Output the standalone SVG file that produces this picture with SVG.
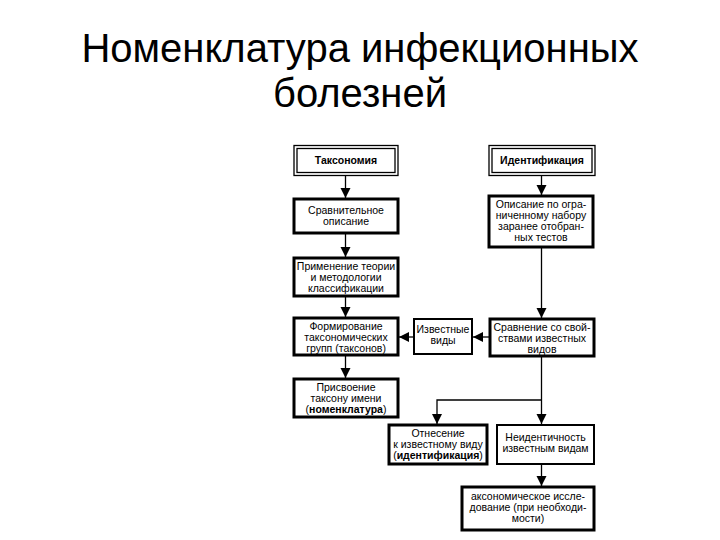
<svg xmlns="http://www.w3.org/2000/svg" width="720" height="540" viewBox="0 0 720 540">
<defs>
<style>
.t{font-family:"Liberation Sans",Arial,sans-serif;font-size:10.5px;fill:#000;text-anchor:middle}
.b{font-weight:bold}
.title{font-family:"Liberation Sans",Arial,sans-serif;font-size:40px;fill:#000;text-anchor:middle}
.bx{fill:#fff;stroke:#000;stroke-width:3}
.bt{fill:#fff;stroke:#000;stroke-width:2}
.dbl{fill:none;stroke:#000;stroke-width:1.3}
.c{fill:none;stroke:#000;stroke-width:1.3}
</style>
<marker id="ah" markerUnits="userSpaceOnUse" markerWidth="10" markerHeight="12" refX="10" refY="5" orient="auto" viewBox="0 0 10 10">
<path d="M0,0 L10,5 L0,10 Z" fill="#000"/>
</marker>
</defs>
<rect width="720" height="540" fill="#fff"/>
<text class="title" x="360" y="62">Номенклатура инфекционных</text>
<text class="title" x="360" y="107">болезней</text>

<g id="connectors">
<line class="c" x1="345.5" y1="176" x2="345.5" y2="198" marker-end="url(#ah)"/>
<line class="c" x1="345.5" y1="233" x2="345.5" y2="257" marker-end="url(#ah)"/>
<line class="c" x1="345.5" y1="296" x2="345.5" y2="317" marker-end="url(#ah)"/>
<line class="c" x1="345.5" y1="355" x2="345.5" y2="378" marker-end="url(#ah)"/>
<line class="c" x1="413" y1="337" x2="399" y2="337" marker-end="url(#ah)"/>
<line class="c" x1="489" y1="337" x2="473" y2="337" marker-end="url(#ah)"/>
<line class="c" x1="541.5" y1="176" x2="541.5" y2="195" marker-end="url(#ah)"/>
<line class="c" x1="541.5" y1="247" x2="541.5" y2="318" marker-end="url(#ah)"/>
<line class="c" x1="541.5" y1="356" x2="541.5" y2="424" marker-end="url(#ah)"/>
<polyline class="c" points="541.5,400 437,400 437,424" marker-end="url(#ah)"/>
<line class="c" x1="541.5" y1="464" x2="541.5" y2="486" marker-end="url(#ah)"/>
</g>

<g id="taxonomy">
<rect class="dbl" x="294" y="145.5" width="104" height="30"/>
<rect class="dbl" x="297" y="148.5" width="98" height="24"/>
<text class="t b" x="346" y="164">Таксономия</text>
</g>
<g id="identification">
<rect class="dbl" x="489" y="145.5" width="106" height="30"/>
<rect class="dbl" x="492" y="148.5" width="100" height="24"/>
<text class="t b" x="542" y="164">Идентификация</text>
</g>
<g id="comparative">
<rect class="bx" x="294" y="199" width="104" height="34"/>
<text class="t" x="346" y="214">Сравнительное</text>
<text class="t" x="346" y="225">описание</text>
</g>
<g id="theory">
<rect class="bx" x="294" y="258" width="104" height="38"/>
<text class="t" x="346" y="270">Применение теории</text>
<text class="t" x="346" y="281">и методологии</text>
<text class="t" x="346" y="292">классификации</text>
</g>
<g id="description">
<rect class="bx" x="489" y="196" width="104" height="51"/>
<text class="t" x="541" y="208">Описание по огра-</text>
<text class="t" x="541" y="219">ниченному набору</text>
<text class="t" x="541" y="230">заранее отобран-</text>
<text class="t" x="541" y="241">ных тестов</text>
</g>
<g id="forming">
<rect class="bx" x="294" y="318" width="104" height="37"/>
<text class="t" x="346" y="330">Формирование</text>
<text class="t" x="346" y="341">таксономических</text>
<text class="t" x="346" y="352">групп (таксонов)</text>
</g>
<g id="known">
<rect class="bt" x="414" y="319" width="58" height="35"/>
<text class="t" x="443" y="333">Известные</text>
<text class="t" x="443" y="344">виды</text>
</g>
<g id="compare">
<rect class="bx" x="490" y="319" width="104" height="37"/>
<text class="t" x="542" y="331">Сравнение со свой-</text>
<text class="t" x="542" y="342">ствами известных</text>
<text class="t" x="542" y="353">видов</text>
</g>
<g id="naming">
<rect class="bx" x="294" y="379" width="104" height="38"/>
<text class="t" x="346" y="391">Присвоение</text>
<text class="t" x="346" y="402">таксону имени</text>
<text class="t" x="346" y="413">(<tspan class="b">номенклатура</tspan>)</text>
</g>
<g id="assign">
<rect class="bx" x="389" y="425" width="98" height="39"/>
<text class="t" x="438" y="437">Отнесение</text>
<text class="t" x="438" y="448">к известному виду</text>
<text class="t" x="438" y="459">(<tspan class="b">идентификация</tspan>)</text>
</g>
<g id="nonident">
<rect class="bt" x="497" y="425" width="97" height="39"/>
<text class="t" x="545.5" y="441">Неидентичность</text>
<text class="t" x="545.5" y="452">известным видам</text>
</g>
<g id="taxresearch">
<rect class="bx" x="462" y="487" width="132" height="43"/>
<text class="t" x="528" y="500">аксономическое иссле-</text>
<text class="t" x="528" y="511">дование (при необходи-</text>
<text class="t" x="528" y="522">мости)</text>
</g>
</svg>
